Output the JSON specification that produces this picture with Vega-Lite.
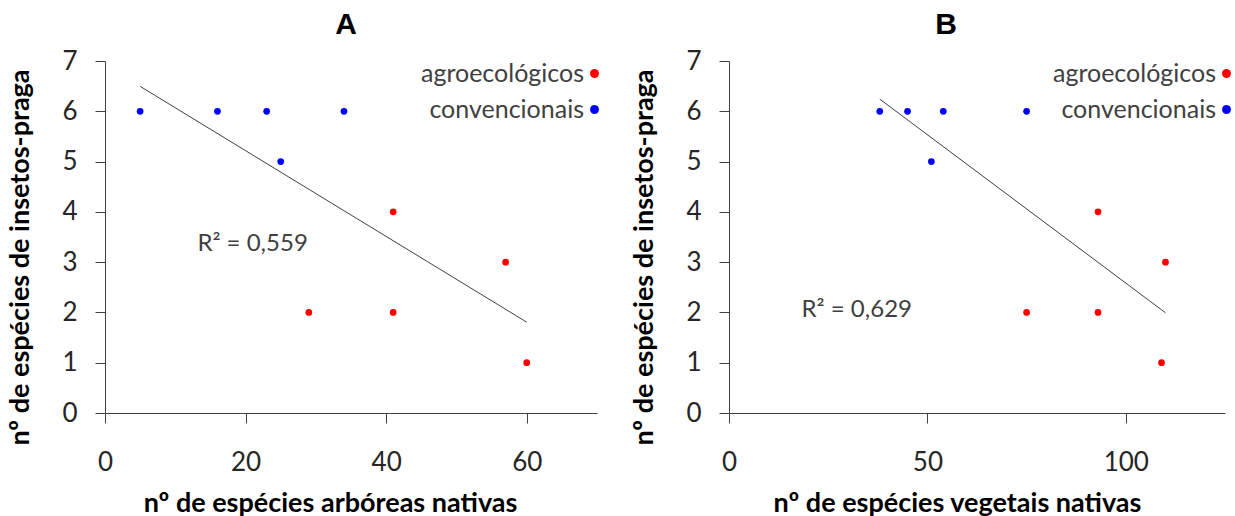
{
  "$schema": "https://vega.github.io/schema/vega-lite/v6.json",
  "background": "white",
  "padding": {"left": 5, "top": 10, "right": 5, "bottom": 0},
  "bounds": "flush",
  "spacing": 132,
  "datasets": {
    "A": [
      {"especies": 5, "insetos": 6, "sistema": "convencionais"},
      {"especies": 16, "insetos": 6, "sistema": "convencionais"},
      {"especies": 23, "insetos": 6, "sistema": "convencionais"},
      {"especies": 34, "insetos": 6, "sistema": "convencionais"},
      {"especies": 25, "insetos": 5, "sistema": "convencionais"},
      {"especies": 29, "insetos": 2, "sistema": "agroecológicos"},
      {"especies": 41, "insetos": 2, "sistema": "agroecológicos"},
      {"especies": 41, "insetos": 4, "sistema": "agroecológicos"},
      {"especies": 57, "insetos": 3, "sistema": "agroecológicos"},
      {"especies": 60, "insetos": 1, "sistema": "agroecológicos"}
    ],
    "B": [
      {"especies": 38, "insetos": 6, "sistema": "convencionais"},
      {"especies": 45, "insetos": 6, "sistema": "convencionais"},
      {"especies": 54, "insetos": 6, "sistema": "convencionais"},
      {"especies": 75, "insetos": 6, "sistema": "convencionais"},
      {"especies": 51, "insetos": 5, "sistema": "convencionais"},
      {"especies": 75, "insetos": 2, "sistema": "agroecológicos"},
      {"especies": 93, "insetos": 2, "sistema": "agroecológicos"},
      {"especies": 93, "insetos": 4, "sistema": "agroecológicos"},
      {"especies": 110, "insetos": 3, "sistema": "agroecológicos"},
      {"especies": 109, "insetos": 1, "sistema": "agroecológicos"}
    ]
  },
  "hconcat": [
    {
      "width": 492,
      "height": 352,
      "title": {"text": "A", "dx": -5},
      "data": {"name": "A"},
      "encoding": {
        "x": {"field": "especies", "type": "quantitative",
          "scale": {"domain": [0, 70], "nice": false},
          "axis": {"values": [0, 20, 40, 60], "title": "nº de espécies arbóreas nativas", "titleX": 225}},
        "y": {"field": "insetos", "type": "quantitative",
          "scale": {"domain": [0, 7], "nice": false},
          "axis": {"values": [0, 1, 2, 3, 4, 5, 6, 7], "title": "nº de espécies de insetos-praga"}}
      },
      "layer": [
        {
          "mark": {"type": "line", "color": "#404040", "strokeWidth": 1},
          "transform": [{"regression": "insetos", "on": "especies"}],
          "encoding": {}
        },
        {
          "mark": {"type": "point", "filled": true, "size": 45, "opacity": 1},
          "encoding": {
            "color": {"field": "sistema", "type": "nominal",
              "scale": {"domain": ["agroecológicos", "convencionais"], "range": ["#ff0000", "#0000ff"]},
              "legend": {"orient": "none", "legendX": 477, "legendY": 0}}
          }
        },
        {
          "transform": [{"filter": "datum.especies == 60"}],
          "mark": {"type": "text", "text": "R² = 0,559", "font": "Lato", "fontSize": 24, "color": "#404040"},
          "encoding": {"x": {"datum": 21}, "y": {"datum": 3.36}}
        }
      ]
    },
    {
      "width": 496,
      "height": 352,
      "title": {"text": "B", "dx": -31},
      "data": {"name": "B"},
      "encoding": {
        "x": {"field": "especies", "type": "quantitative",
          "scale": {"domain": [0, 125], "nice": false},
          "axis": {"values": [0, 50, 100], "title": "nº de espécies vegetais nativas", "titleX": 228}},
        "y": {"field": "insetos", "type": "quantitative",
          "scale": {"domain": [0, 7], "nice": false},
          "axis": {"values": [0, 1, 2, 3, 4, 5, 6, 7], "title": "nº de espécies de insetos-praga"}}
      },
      "layer": [
        {
          "mark": {"type": "line", "color": "#404040", "strokeWidth": 1},
          "transform": [{"regression": "insetos", "on": "especies"}],
          "encoding": {}
        },
        {
          "mark": {"type": "point", "filled": true, "size": 45, "opacity": 1},
          "encoding": {
            "color": {"field": "sistema", "type": "nominal",
              "scale": {"domain": ["agroecológicos", "convencionais"], "range": ["#ff0000", "#0000ff"]},
              "legend": {"orient": "none", "legendX": 485, "legendY": 0}}
          }
        },
        {
          "transform": [{"filter": "datum.especies == 110"}],
          "mark": {"type": "text", "text": "R² = 0,629", "font": "Lato", "fontSize": 24, "color": "#404040"},
          "encoding": {"x": {"datum": 32.2}, "y": {"datum": 2.04}}
        }
      ]
    }
  ],
  "resolve": {"scale": {"color": "independent"}, "legend": {"color": "independent"}},
  "config": {
    "view": {"stroke": null},
    "title": {"font": "Liberation Sans", "fontSize": 30, "fontWeight": "bold", "color": "#000000", "offset": 8, "baseline": "alphabetic", "anchor": "middle"},
    "axis": {
      "grid": false,
      "domainColor": "#404040",
      "tickColor": "#404040",
      "tickSize": 10,
      "labelFont": "Lato",
      "labelFontSize": 26,
      "labelColor": "#262626",
      "labelFlush": false,
      "labelOverlap": false,
      "titleFont": "Lato",
      "titleFontSize": 27,
      "titleFontWeight": "bold",
      "titleColor": "#000000",
      "titleBaseline": "alphabetic",
      "titleAlign": "center"
    },
    "axisX": {"labelPadding": 26, "titleY": 98},
    "axisY": {"labelPadding": 18, "titleX": -77, "titleY": 196},
    "legend": {
      "title": null,
      "labelAlign": "right",
      "labelOffset": -23,
      "labelFont": "Lato",
      "labelFontSize": 25,
      "labelColor": "#404040",
      "labelLimit": 0,
      "symbolSize": 80,
      "symbolType": "circle",
      "rowPadding": 10
    }
  }
}
